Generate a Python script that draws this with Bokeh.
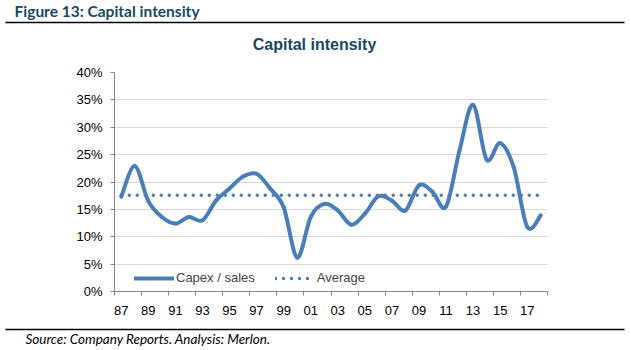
from bokeh.plotting import figure
from bokeh.layouts import column
from bokeh.models import (Range1d, FixedTicker, NumeralTickFormatter,
                          Legend, LegendItem, ColumnDataSource)
from bokeh.core.properties import value
from bokeh.embed import file_html
from bokeh.resources import INLINE

years = ["87", "88", "89", "90", "91", "92", "93", "94", "95", "96", "97", "98", "99",
         "00", "01", "02", "03", "04", "05", "06", "07", "08", "09", "10", "11", "12",
         "13", "14", "15", "16", "17", "18"]
capex_sales = [0.173, 0.229, 0.165, 0.136, 0.124, 0.136, 0.130, 0.166, 0.188, 0.210,
               0.215, 0.188, 0.154, 0.062, 0.136, 0.160, 0.148, 0.122, 0.142, 0.174,
               0.166, 0.148, 0.194, 0.182, 0.155, 0.258, 0.341, 0.241, 0.271, 0.227,
               0.118, 0.139]
average = 0.176
y_ticks = [0.0, 0.05, 0.10, 0.15, 0.20, 0.25, 0.30, 0.35, 0.40]

header_text = "Figure 13: Capital intensity"
chart_title = "Capital intensity"
source_text = "Source: Company Reports. Analysis: Merlon."

BLUE = "#4A7EBB"
NAVY = "#184A63"
FONT = "Liberation Sans"
W = 631


def blank(height):
    f = figure(width=W, height=height, output_backend="svg", toolbar_location=None,
               x_range=Range1d(0, W), y_range=Range1d(height, 0),
               x_axis_type=None, y_axis_type=None,
               min_border=0, min_border_left=0, min_border_right=0,
               min_border_top=0, min_border_bottom=0, frame_align=False)
    f.outline_line_color = None
    f.xgrid.visible = False
    f.ygrid.visible = False
    f.background_fill_color = "white"
    f.border_fill_color = "white"
    return f


# ---- header: figure caption, rule, chart title
head = blank(60)
head.text(x=[14], y=[10], text=[header_text], text_font=value("Lato"),
          text_font_style="bold", text_font_size="15.5px", text_color=NAVY,
          text_baseline="alphabetic")
head.line(x=[5, 624], y=[22, 22], line_color="black", line_width=1.5)
head.text(x=[314], y=[44], text=[chart_title], text_font=value(FONT),
          text_font_style="bold", text_font_size="16px", text_color=NAVY,
          text_align="center", text_baseline="alphabetic")

# ---- main chart
n = len(years)
xs = [i + 0.5 for i in range(n)]

# Smooth (Excel-style) curve: cubic Bezier segments between consecutive points
x0, y0, x1, y1, cx0, cy0, cx1, cy1 = [], [], [], [], [], [], [], []
for i in range(n - 1):
    pm = (xs[max(i - 1, 0)], capex_sales[max(i - 1, 0)])
    p0 = (xs[i], capex_sales[i])
    p1 = (xs[i + 1], capex_sales[i + 1])
    p2 = (xs[min(i + 2, n - 1)], capex_sales[min(i + 2, n - 1)])
    x0.append(p0[0]); y0.append(p0[1]); x1.append(p1[0]); y1.append(p1[1])
    cx0.append(p0[0] + (p1[0] - pm[0]) / 6); cy0.append(p0[1] + (p1[1] - pm[1]) / 6)
    cx1.append(p1[0] - (p2[0] - p0[0]) / 6); cy1.append(p1[1] - (p2[1] - p0[1]) / 6)

p = figure(width=W, height=265, output_backend="svg", toolbar_location=None,
           x_range=Range1d(0, n), y_range=Range1d(0, 0.40), frame_align=False,
           min_border_left=114, min_border_right=84, min_border_top=12, min_border_bottom=34)
p.outline_line_color = None
p.background_fill_color = "white"
p.border_fill_color = "white"

p.xgrid.visible = False
p.ygrid.ticker = FixedTicker(ticks=y_ticks)
p.ygrid.grid_line_color = "#D9D9D9"
p.ygrid.grid_line_width = 1

p.yaxis.ticker = FixedTicker(ticks=y_ticks)
p.yaxis.formatter = NumeralTickFormatter(format="0%")
p.yaxis.axis_line_color = "#868686"
p.yaxis.major_tick_line_color = "#868686"
p.yaxis.major_tick_out = 4
p.yaxis.major_tick_in = 0
p.yaxis.minor_tick_line_color = None
p.yaxis.major_label_standoff = 8
p.yaxis.major_label_text_font = FONT
p.yaxis.major_label_text_font_size = "13px"
p.yaxis.major_label_text_color = "black"

label_pos = [xs[i] for i in range(0, n, 2)]
p.xaxis.ticker = FixedTicker(ticks=label_pos, minor_ticks=list(range(0, n + 1, 2)))
p.xaxis.major_label_overrides = {xs[i]: years[i] for i in range(0, n, 2)}
p.xaxis.axis_line_color = "#868686"
p.xaxis.major_tick_line_color = None
p.xaxis.major_tick_out = 0
p.xaxis.major_tick_in = 0
p.xaxis.minor_tick_line_color = "#868686"
p.xaxis.minor_tick_out = 4
p.xaxis.minor_tick_in = 0
p.xaxis.major_label_standoff = 10
p.xaxis.major_label_text_font = FONT
p.xaxis.major_label_text_font_size = "13px"
p.xaxis.major_label_text_color = "black"

src = ColumnDataSource(dict(x0=x0, y0=y0, x1=x1, y1=y1, cx0=cx0, cy0=cy0, cx1=cx1, cy1=cy1))
r_line = p.bezier(x0="x0", y0="y0", x1="x1", y1="y1", cx0="cx0", cy0="cy0", cx1="cx1", cy1="cy1",
                  source=src, line_color=BLUE, line_width=4, line_cap="round")
r_avg = p.line(x=[xs[0], xs[-1]], y=[average, average], line_color=BLUE, line_width=3.5,
               line_dash="0 8", line_cap="round")

legend = Legend(items=[LegendItem(label="Capex / sales", renderers=[r_line]),
                       LegendItem(label="Average", renderers=[r_avg])],
                orientation="horizontal", location=(20, 6), padding=0, margin=0,
                spacing=20, glyph_width=40, glyph_height=14, label_standoff=2,
                label_text_font=FONT, label_text_font_size="13px",
                border_line_color=None, background_fill_alpha=0)
p.add_layout(legend, "center")

# ---- footer: rule and source note
foot = blank(25)
foot.line(x=[5, 624], y=[4, 4], line_color="black", line_width=1.5)
foot.text(x=[25], y=[13], text=[source_text], text_font=value("Lato"),
          text_font_style="italic", text_font_size="13.5px", text_color="black",
          text_baseline="alphabetic")

layout = column(head, p, foot, spacing=0)
open("out.html", "w").write(file_html(layout, INLINE))
